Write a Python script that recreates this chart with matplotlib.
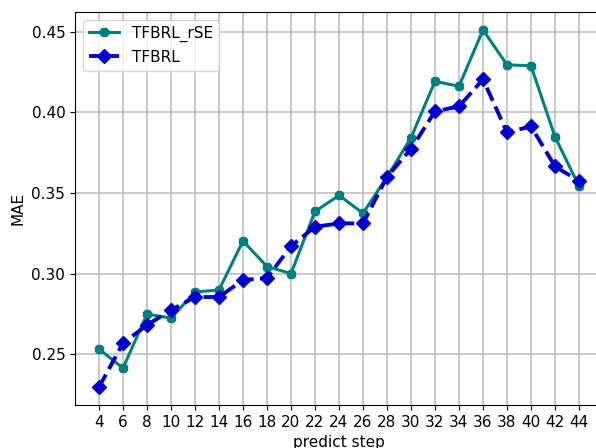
import numpy as np
import matplotlib
matplotlib.use('Agg')
import matplotlib.pyplot as plt

steps = list(range(4, 46, 2))
mae_rse = [0.2531, 0.2413, 0.2748, 0.2724, 0.2885, 0.2898, 0.3202, 0.3043,
           0.3000, 0.3385, 0.3485, 0.3374, 0.3599, 0.3842, 0.4193, 0.4162,
           0.4512, 0.4295, 0.4289, 0.3848, 0.3543]
mae_base = [0.2295, 0.2568, 0.2680, 0.2773, 0.2854, 0.2854, 0.2960, 0.2972,
            0.3170, 0.3290, 0.3311, 0.3311, 0.3600, 0.3773, 0.4006, 0.4037,
            0.4205, 0.3876, 0.3913, 0.3665, 0.3574]

plt.rcParams['font.size'] = 11

fig = plt.figure(figsize=(5.96, 4.48), dpi=100)
ax = fig.add_axes([75/596, 43/448, 528/596, 393/448])

ax.plot(steps, mae_rse, color='#008080', marker='8', markersize=7,
        lw=2.2, label='TFBRL_rSE')
ax.plot(steps, mae_base, color='mediumblue', marker='D', markersize=7,
        lw=2.8, ls='--', label='TFBRL')

ax.set_xticks(steps)
ax.grid(True, color='#c0c0c0', lw=1.2)
ax.set_axisbelow(True)
ax.set_xlabel('predict step')
ax.set_ylabel('MAE')
ax.legend(loc='upper left')

plt.savefig('out.png', dpi=100)
